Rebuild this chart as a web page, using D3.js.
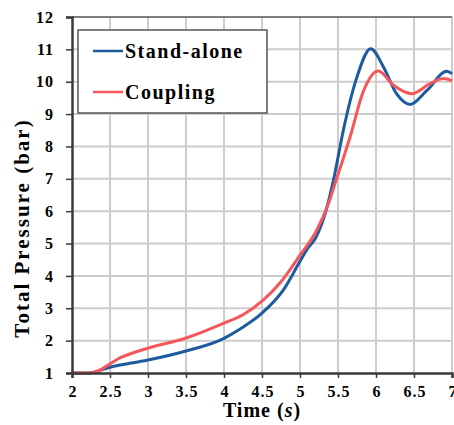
<!DOCTYPE html>
<html>
<head>
<meta charset="utf-8">
<script src="https://cdn.jsdelivr.net/npm/d3@7"></script>
<style>
	body { margin: 0; background: #fff; }
	svg { display: block; font-family: 'Liberation Serif', 'Times New Roman', serif; font-weight: bold; }
</style>
</head>
<body>
<svg id="chart" width="454" height="425"></svg>
<script>
const xTicks = [2, 2.5, 3, 3.5, 4, 4.5, 5, 5.5, 6, 6.5, 7]
const yTicks = [1, 2, 3, 4, 5, 6, 7, 8, 9, 10, 11, 12]

const standAloneTime = [2, 2.22, 2.5, 3, 3.5, 4, 4.19, 4.5, 4.78, 5, 5.1, 5.2, 5.35, 5.44, 5.57, 5.75, 5.93, 6.1, 6.27, 6.45, 6.67, 6.93, 7]
const standAlonePressure = [1, 1, 1.18, 1.4, 1.68, 2.07, 2.33, 2.85, 3.56, 4.45, 4.85, 5.15, 6.08, 6.95, 8.5, 10.15, 11.02, 10.45, 9.63, 9.3, 9.73, 10.32, 10.25]

const couplingTime = [2, 2.24, 2.66, 3, 3.5, 4, 4.25, 4.5, 4.75, 5, 5.22, 5.39, 5.46, 5.66, 5.83, 6.03, 6.23, 6.47, 6.71, 6.89, 7]
const couplingPressure = [1, 1, 1.5, 1.77, 2.08, 2.54, 2.8, 3.22, 3.82, 4.64, 5.41, 6.34, 6.85, 8.3, 9.68, 10.33, 9.89, 9.63, 9.94, 10.1, 10.03]

const seriesNames = ['Stand-alone', 'Coupling']
const seriesColors = ['#1d5b9e', '#f5575b']

const svg = d3.select('#chart')
const x = d3.scaleLinear().domain([2, 7]).range([72, 452])
const y = d3.scaleLinear().domain([1, 12]).range([373, 17])

const toPoints = (ts, ps) => ts.map((t, i) => [t, ps[i]])
const series = [
	toPoints(standAloneTime, standAlonePressure),
	toPoints(couplingTime, couplingPressure)
]

// grid
const gGrid = svg.append('g')
gGrid.selectAll('line.v').data(xTicks.slice(1)).enter().append('line')
	.attr('x1', x).attr('x2', x).attr('y1', y(12)).attr('y2', y(1))
	.style('stroke', '#cdcdcd').style('stroke-width', 2)
gGrid.selectAll('line.h').data(yTicks.slice(1, -1)).enter().append('line')
	.attr('x1', x(2)).attr('x2', x(7)).attr('y1', y).attr('y2', y)
	.style('stroke', '#cdcdcd').style('stroke-width', 2)
svg.append('line')
	.attr('x1', x(2)).attr('x2', x(7)).attr('y1', y(12)).attr('y2', y(12))
	.style('stroke', '#555').style('stroke-width', 1.5)

// lines
const line = d3.line().x(d => x(d[0])).y(d => y(d[1])).curve(d3.curveMonotoneX)
svg.append('g').selectAll('path').data(series).enter().append('path')
	.attr('d', line)
	.style('fill', 'none')
	.style('stroke', (_, i) => seriesColors[i])
	.style('stroke-width', 3)

// axes
const xAxis = d3.axisBottom(x).tickValues(xTicks).tickSize(5).tickPadding(8).tickFormat(d3.format('~g'))
const yAxis = d3.axisLeft(y).tickValues(yTicks).tickSize(6).tickPadding(12).tickFormat(d3.format('d'))

const styleAxis = (g) => {
	g.select('.domain').style('stroke', '#3a3a3a').style('stroke-width', 2.5)
	g.selectAll('.tick line').style('stroke', '#3a3a3a').style('stroke-width', 1.5)
	g.selectAll('.tick text')
		.style('font-family', "'Liberation Serif', serif")
		.style('font-weight', 'bold')
		.style('font-size', '16px')
		.style('letter-spacing', '1px')
		.style('fill', '#000')
}

svg.append('g').attr('transform', `translate(0,${y(1)})`).call(xAxis).call(styleAxis)
	.selectAll('.tick text').attr('dy', '0.71em').attr('dx', '0.5px')
svg.append('g').attr('transform', `translate(${x(2)},0)`).call(yAxis).call(styleAxis)

// axis titles
const xTitle = svg.append('text')
	.attr('x', 262).attr('y', 417)
	.attr('text-anchor', 'middle')
	.style('font-size', '20px').style('letter-spacing', '1px')
xTitle.append('tspan').text('Time (')
xTitle.append('tspan').style('font-style', 'italic').text('s')
xTitle.append('tspan').text(')')

svg.append('text')
	.attr('transform', 'translate(29,228) rotate(-90)')
	.attr('text-anchor', 'middle')
	.style('font-size', '21px').style('letter-spacing', '2px')
	.text('Total Pressure (bar)')

// legend
const gLegend = svg.append('g')
gLegend.append('rect')
	.attr('x', 78).attr('y', 30).attr('width', 189).attr('height', 83)
	.style('fill', '#fff').style('stroke', '#555').style('stroke-width', 1.5)

const legendItem = gLegend.selectAll('g').data(seriesNames).enter().append('g')
	.attr('transform', (_, i) => `translate(0,${51 + i * 41})`)
legendItem.append('line')
	.attr('x1', 93).attr('x2', 123)
	.style('stroke', (_, i) => seriesColors[i]).style('stroke-width', 2.5)
legendItem.append('text')
	.attr('x', 125).attr('y', 7)
	.style('font-size', '20px').style('letter-spacing', '1.5px')
	.text(d => d)
</script>
</body>
</html>
